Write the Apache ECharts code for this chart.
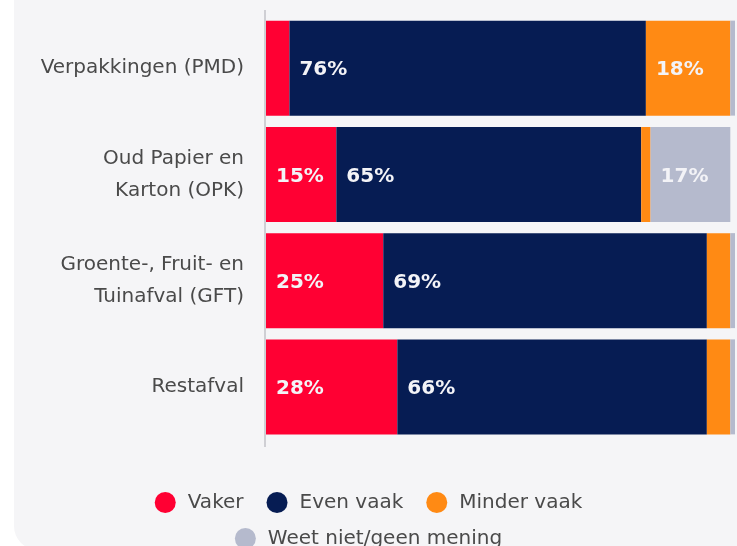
<!DOCTYPE html>
<html>
<head>
<meta charset="utf-8">
<script src="https://cdn.jsdelivr.net/npm/echarts@6/dist/echarts.min.js"></script>
<style>
  html, body { margin: 0; padding: 0; background: #fff; }
  #chart { width: 737px; height: 546px; }
</style>
</head>
<body>
<div id="chart"></div>
<script>
var categories = [
  "Verpakkingen (PMD)",
  "Oud Papier en\nKarton (OPK)",
  "Groente-, Fruit- en\nTuinafval (GFT)",
  "Restafval"
];
var vaker = [5, 15, 25, 28];
var evenVaak = [76, 65, 69, 66];
var minderVaak = [18, 2, 5, 5];
var weetNiet = [1, 17, 1, 1];

var seriesNames = ["Vaker", "Even vaak", "Minder vaak", "Weet niet/geen mening"];
var colors = ["#ff0033", "#061c53", "#ff8a14", "#b5bacd"];

var font = "DejaVu Sans";
var myChart = echarts.init(document.getElementById("chart"));

function makeSeries(name, data, color) {
  return {
    name: name,
    type: "bar",
    stack: "total",
    barWidth: 95,
    data: data,
    itemStyle: { color: color },
    label: {
      show: true,
      position: "insideLeft",
      distance: 10,
      offset: [0, 2],
      color: "#f3f3f7",
      fontFamily: font,
      fontWeight: "bold",
      fontSize: 20,
      formatter: function (p) {
        return p.value >= 10 ? p.value + "%" : "";
      }
    }
  };
}

var legendText = { color: "#4a4a4a", fontSize: 20, fontFamily: font, padding: [0, 0, 0, 7] };

var option = {
  animation: false,
  textStyle: { fontFamily: font },
  graphic: [
    {
      type: "rect",
      z: -10,
      shape: { x: 14, y: -30, width: 800, height: 580, r: 24 },
      style: { fill: "#f5f5f7" }
    },
    {
      type: "line",
      z: 1,
      shape: { x1: 265, y1: 10, x2: 265, y2: 447 },
      style: { stroke: "#cfcfd4", lineWidth: 2 }
    }
  ],
  grid: {
    left: 266,
    right: 2,
    top: 15,
    height: 425
  },
  xAxis: {
    type: "value",
    min: 0,
    max: 100,
    show: false
  },
  yAxis: {
    type: "category",
    inverse: true,
    data: categories,
    axisLine: { show: false },
    axisTick: { show: false },
    axisLabel: {
      margin: 22,
      color: "#4a4a4a",
      fontFamily: font,
      fontSize: 20,
      lineHeight: 32,
      offset: [0, 2]
    }
  },
  legend: [
    {
      data: seriesNames.slice(0, 3),
      left: "center",
      top: 487,
      icon: "circle",
      itemWidth: 21,
      itemHeight: 21,
      itemGap: 23,
      textStyle: legendText
    },
    {
      data: seriesNames.slice(3),
      left: "center",
      top: 523,
      icon: "circle",
      itemWidth: 21,
      itemHeight: 21,
      textStyle: legendText
    }
  ],
  series: [
    makeSeries(seriesNames[0], vaker, colors[0]),
    makeSeries(seriesNames[1], evenVaak, colors[1]),
    makeSeries(seriesNames[2], minderVaak, colors[2]),
    makeSeries(seriesNames[3], weetNiet, colors[3])
  ]
};

myChart.setOption(option);
</script>
</body>
</html>
